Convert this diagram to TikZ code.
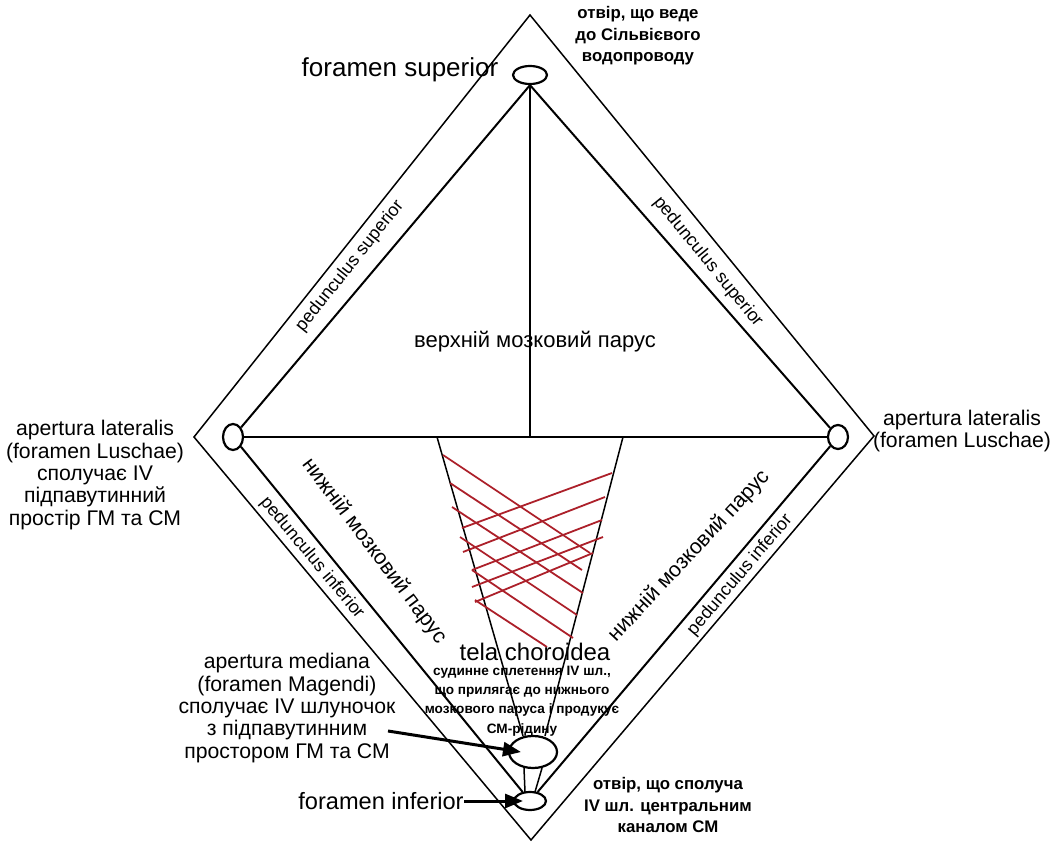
\documentclass[tikz,border=0pt]{standalone}
\usepackage{fontspec}
\setmainfont{Liberation Sans}
\usetikzlibrary{shapes.geometric, arrows.meta, positioning, calc}
\definecolor{choroid}{RGB}{172,32,42}
\tikzset{
  hole/.style={draw, ellipse, line width=1.1pt, inner sep=0pt},
  band/.style={line width=0.75pt},
  wall/.style={line width=1pt},
  plexus/.style={draw=choroid, line width=0.9pt},
  lbl/.style={font=\fontsize{10.6}{11.2}\selectfont, align=center, inner sep=0pt},
  note/.style={font=\bfseries\fontsize{8.4}{10.8}\selectfont, align=center, inner sep=0pt},
  small/.style={font=\bfseries\fontsize{6.8}{9.7}\selectfont, align=center, inner sep=0pt},
  ped/.style={font=\fontsize{9}{9}\selectfont, inner sep=0pt},
  pointer/.style={line width=1.5pt, -{Triangle[length=9pt,width=7pt]}}
}
\begin{document}
\begin{tikzpicture}[x=0.5pt, y=-0.5pt]
\useasboundingbox (0,0) rectangle (1057,851);

\coordinate (T) at (530,15);
\coordinate (L) at (194,437);
\coordinate (R) at (874,436);
\coordinate (B) at (531,840);
\draw[band] (T) -- (L) -- (B) -- (R) -- cycle;

\node[hole, minimum width=17pt, minimum height=9pt] (fsup) at (530,75) {};
\node[hole, minimum width=10pt, minimum height=13pt] (latl) at (233,437) {};
\node[hole, minimum width=10pt, minimum height=12pt] (latr) at (838,437) {};
\node[hole, minimum width=24pt, minimum height=16pt] (med) at (533,752) {};
\node[hole, minimum width=16pt, minimum height=9pt] (finf) at (530,801) {};

\coordinate (mid) at (530,437);
\coordinate (tl) at (437,437);
\coordinate (tr) at (623,437);
\draw[wall] (fsup.south) -- (latl);
\draw[wall] (fsup.south) -- (latr);
\draw[wall] (fsup.south) -- (mid);
\draw[wall] (latl.east) -- (latr.west);
\draw[wall] (latl) -- (finf);
\draw[wall] (latr) -- (finf);
\draw[band] (tl) -- ($(med.north)+(-10,1)$);
\draw[band] (tr) -- ($(med.north)+(12,1)$);
\draw[band] ($(med.south)+(-9,-1)$) -- ($(finf.north)+(-5,1)$);
\draw[band] ($(med.south)+(9,-1)$) -- ($(finf.north)+(5,1)$);

% tela choroidea
\foreach \xa/\ya/\xb/\yb in {443/455/590/553, 450/483/582/570, 452/507/583/593,
    460/537/577/615, 472/570/573/638, 475/600/547/647,
    462/528/612/473, 463/552/605/497, 472/570/602/520,
    472/587/603/537, 475/602/593/553}
  \draw[plexus] (\xa,\ya) -- (\xb,\yb);

\node[font=\fontsize{13}{13}\selectfont, inner sep=0pt] (supl) at (400,70) {foramen superior};
\node[note] (sylv) at (638,36) {отвір, що веде\\до Сільвієвого\\водопроводу};
\node[ped, rotate=51.5] (pedsl) at (350,266) {pedunculus superior};
\node[ped, rotate=-50.7] (pedsr) at (708,262) {pedunculus superior};
\node[font=\fontsize{11}{11}\selectfont, inner sep=0pt] (velsup) at (535,342) {верхній мозковий парус};
\node[lbl] (luschl) at (95,475) {apertura lateralis\\(foramen Luschae)\\сполучає IV\\підпавутинний\\простір ГМ та СМ};
\node[lbl] (luschr) at (962,431) {apertura lateralis\\(foramen Luschae)};
\node[font=\fontsize{10.6}{10.6}\selectfont, inner sep=0pt, rotate=-53] (velinfl) at (374,551) {нижній мозковий парус};
\node[font=\fontsize{10.6}{10.6}\selectfont, inner sep=0pt, rotate=47] (velinfr) at (689,556) {нижній мозковий парус};
\node[ped, rotate=-50.2] (pedil) at (312,558) {pedunculus inferior};
\node[ped, rotate=49.7] (pedir) at (740,575) {pedunculus inferior};
\node[font=\fontsize{12}{12}\selectfont, inner sep=0pt] (tela) at (535,652) {tela choroidea};
\node[small] (plex) at (522,701) {судинне сплетення IV шл.,\\що прилягає до нижнього\\мозкового паруса і продукує\\СМ-рідину};
\node[lbl] (magend) at (287,708) {apertura mediana\\(foramen Magendi)\\сполучає IV шлуночок\\з підпавутинним\\простором ГМ та СМ};
\node[font=\fontsize{11.8}{11.8}\selectfont, inner sep=0pt] (infl) at (381,801) {foramen inferior};
\node[note] (canal) at (668,805) {отвір, що сполуча\\IV шл. центральним\\каналом СМ};

\coordinate (magtip) at (388,731);
\draw[pointer] (magtip) -- ($(med.center)+(-12,0)$);
\draw[pointer] (infl.east) -- ($(finf.center)+(-7,0)$);
\end{tikzpicture}
\end{document}
